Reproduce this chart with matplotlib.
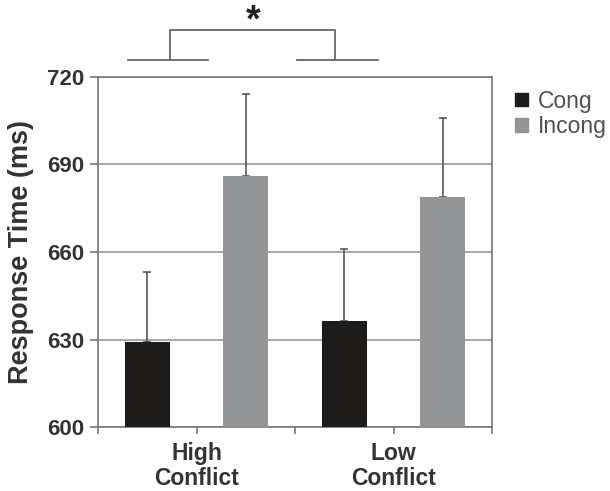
import numpy as np
import matplotlib.pyplot as plt

plt.rcParams['font.family'] = ['Liberation Sans', 'DejaVu Sans']

# data
conditions = ['High\nConflict', 'Low\nConflict']
series = ['Cong', 'Incong']
cong_mean = [629, 636.5]
incong_mean = [686, 679]
cong_err = [24, 24.5]
incong_err = [28, 27]
y_ticks = [600, 630, 660, 690, 720]

fig = plt.figure(figsize=(6.1, 4.91), dpi=100)
ax = fig.add_axes([0.1607, 0.1303, 0.6459, 0.7129])

# bars laid out as Cong, Incong, Cong, Incong
pos = np.arange(4)
means = [cong_mean[0], incong_mean[0], cong_mean[1], incong_mean[1]]
errs = [cong_err[0], incong_err[0], cong_err[1], incong_err[1]]
colors = ['#1e1b1b', '#939597', '#1e1b1b', '#939597']

ax.bar(pos, np.array(means) - 600, bottom=600, width=0.46, color=colors, zorder=3)
ax.errorbar(pos, means, yerr=[np.zeros(4), errs], fmt='none', ecolor='#4a4a4a',
            elinewidth=1.1, capsize=3, capthick=1.1, zorder=2)

ax.set_xlim(-0.5, 3.5)
ax.set_ylim(600, 720)
ax.set_yticks(y_ticks)
ax.set_yticklabels([str(v) for v in y_ticks], fontsize=16, fontweight='bold', color='#333333')
ax.set_xticks([-0.5, 0.5, 1.5, 2.5, 3.5])
ax.set_xticklabels([])
ax.tick_params(axis='x', length=5, color='#777777', width=1.2)
ax.tick_params(axis='y', length=6, color='#777777', width=1.2, pad=4)
for lab, x in zip(conditions, [0.5, 2.5]):
    ax.text(x, 595, lab, ha='center', va='top', fontsize=16.5, fontweight='bold',
            color='#333333', linespacing=1.15)

ax.yaxis.grid(True, color='#999999', linewidth=1.2, zorder=0)
for s in ax.spines.values():
    s.set_color('#777777')
    s.set_linewidth(1.2)

ax.set_ylabel('Response Time (ms)', fontsize=19.5, fontweight='bold', color='#333333')
ax.yaxis.set_label_coords(-0.163, 0.5)

# significance bracket above the plot
k = dict(color='#666666', linewidth=1.3, clip_on=False)
ax.plot([-0.2, 0.62], [725.9, 725.9], **k)
ax.plot([1.52, 2.34], [725.9, 725.9], **k)
ax.plot([0.23, 0.23, 1.905, 1.905], [725.9, 736.2, 736.2, 725.9], **k)
ax.text(1.07, 739, '*', ha='center', va='center', fontsize=27, fontweight='bold', color='#222222')

# legend
handles = [plt.Rectangle((0, 0), 1, 1, color=c) for c in ['#1e1b1b', '#939597']]
leg = ax.legend(handles, series, loc='upper left', bbox_to_anchor=(1.035, 0.99),
                frameon=False, fontsize=16.5, handlelength=0.55, handleheight=0.55,
                handletextpad=0.45, labelspacing=0.1, borderaxespad=0)
for t in leg.get_texts():
    t.set_color('#505050')

fig.savefig('out.png', dpi=100)
